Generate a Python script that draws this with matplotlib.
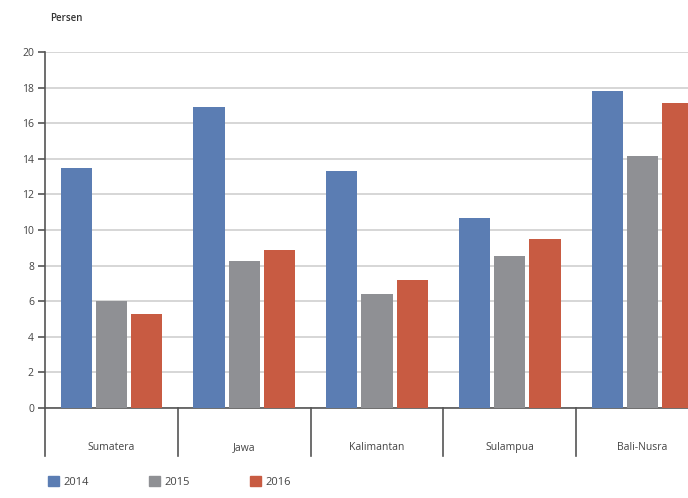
import numpy as np
import matplotlib.pyplot as plt
from matplotlib.patches import Patch

regions = ["Sumatera", "Jawa", "Kalimantan", "Sulampua", "Bali-Nusra"]
years = ["2014", "2015", "2016"]
v2014 = [13.5, 16.9, 13.3, 10.7, 17.8]
v2015 = [6.0, 8.25, 6.4, 8.55, 14.15]
v2016 = [5.3, 8.9, 7.2, 9.5, 17.15]

colors = ["#5b7db3", "#8f9094", "#c85b42"]
txt = "#444444"

plt.rcParams["font.family"] = ["Open Sans", "DejaVu Sans"]

fig = plt.figure(figsize=(6.88, 4.98), dpi=100)
# axes runs past the right edge of the figure
ax = fig.add_axes([0.0654, 0.1807, 0.965, 0.715])

x = np.arange(len(regions))
width = 0.235
step = 0.265
for i, vals in enumerate([v2014, v2015, v2016]):
    ax.bar(x + (i - 1) * step, vals, width, color=colors[i], zorder=3)

ax.set_xlim(-0.5, len(regions) - 0.5)
ax.set_ylim(0, 20)
ax.set_yticks(range(0, 21, 2))
ax.yaxis.grid(True, color="#d0d0d0", linewidth=1.2, zorder=0)
ax.tick_params(axis="y", length=5, width=1.2, color="#555555",
               labelsize=7.5, labelcolor=txt, pad=3)
ax.set_xticks([])
for s in ["top", "right"]:
    ax.spines[s].set_visible(False)
ax.spines["left"].set_color("#555555")
ax.spines["left"].set_linewidth(1.2)
ax.spines["bottom"].set_color("#555555")
ax.spines["bottom"].set_linewidth(1.2)

# category dividers hanging below the axis
trans = ax.get_xaxis_transform()
for b in np.arange(-0.5, len(regions), 1.0):
    ax.plot([b, b], [0, -0.135], transform=trans, color="#555555",
            linewidth=1.2, clip_on=False)
for xi, name in zip(x, regions):
    ax.text(xi, -0.11, name, transform=trans, ha="center", va="center",
            fontsize=7.5, color=txt)

fig.text(0.073, 0.963, "Persen", fontsize=7, color="#333333",
         fontweight="semibold", ha="left", va="center")

handles = [Patch(color=c) for c in colors]
fig.legend(handles, years, loc="lower left", bbox_to_anchor=(0.055, 0.0),
           ncol=3, frameon=False, fontsize=8, labelcolor=txt,
           handlelength=1.0, handleheight=1.0, handletextpad=0.4,
           columnspacing=5.4)

fig.savefig("out.png", dpi=100)
